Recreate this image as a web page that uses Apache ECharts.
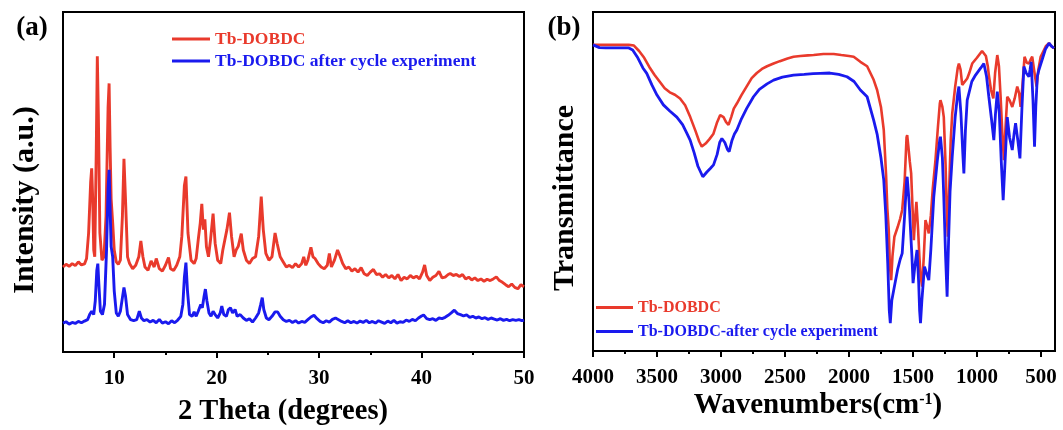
<!DOCTYPE html>
<html>
<head>
<meta charset="utf-8">
<title>Tb-DOBDC XRD and FTIR</title>
<script src="https://cdn.jsdelivr.net/npm/echarts@6/dist/echarts.min.js"></script>
<style>
  html, body { margin: 0; padding: 0; background: #fff; }
  #chart { width: 1063px; height: 430px; }
</style>
</head>
<body>
<div id="chart"></div>
<script>
// ---- (a) powder XRD patterns: [2θ (deg), intensity (a.u., offset)] ----
const xrdFresh = [
  [5.0,25.0],[5.3,25.8],[5.6,25.2],[5.9,26.0],[6.2,25.4],[6.5,26.5],[6.8,25.6],[7.1,25.9],[7.3,27.5],[7.5,35],
  [7.7,50],[7.8,54],[7.9,45],[8.0,30],[8.1,28],[8.25,60],[8.35,87],[8.45,70],[8.6,35],[8.8,27],
  [9.0,28],[9.2,40],[9.4,72],[9.5,79],[9.6,60],[9.7,45],[9.85,38],[10.0,30],[10.2,26.5],[10.4,25.8],
  [10.6,27],[10.8,40],[10.95,56.8],[11.1,45],[11.3,28],[11.5,26],[11.8,24.5],[12.1,25.5],[12.4,28],[12.6,32.7],
  [12.8,28],[13.0,25],[13.3,24],[13.6,26.8],[13.9,25],[14.1,27.5],[14.4,24.5],[14.7,23.8],[15.0,25.5],[15.3,27.8],
  [15.5,24.5],[15.8,24],[16.1,25.5],[16.4,28],[16.6,34],[16.85,49],[17.0,51.6],[17.2,35],[17.5,27],[17.8,26],
  [18.0,27.5],[18.2,33],[18.4,38],[18.55,43.6],[18.7,36],[18.85,39],[19.0,31],[19.2,28],[19.4,33],[19.65,40.7],
  [19.85,32],[20.1,27],[20.4,26],[20.6,30],[20.8,33],[21.0,36],[21.25,41],[21.45,34],[21.7,28],[21.9,30],
  [22.1,31],[22.4,34.8],[22.6,30],[22.9,27],[23.2,26],[23.5,27.5],[23.8,28],[24.1,34],[24.35,45.7],[24.55,36],
  [24.8,29],[25.1,27],[25.4,28],[25.7,35],[25.9,32],[26.2,28],[26.5,26.5],[26.8,25],[27.1,25.5],[27.4,24.8],
  [27.7,26],[28.0,25],[28.3,26],[28.5,28],[28.7,25.5],[28.9,27],[29.2,30.8],[29.4,28],[29.6,27.5],[29.9,26],
  [30.2,25],[30.5,24.5],[30.8,25.5],[31.0,29],[31.2,25],[31.5,27],[31.8,30],[32.0,28.5],[32.3,26],[32.6,24.5],
  [32.9,25],[33.2,23.8],[33.5,24.5],[33.8,23.5],[34.1,24.8],[34.4,23],[34.7,22.5],[35.0,23.5],[35.3,24.3],[35.6,22.8],
  [35.9,23],[36.2,22],[36.5,22.8],[36.8,21.8],[37.1,22.5],[37.4,21.5],[37.7,22.8],[38.0,21],[38.3,22],[38.6,21.5],
  [38.9,22.5],[39.2,21.8],[39.5,22.3],[39.8,21.5],[40.1,23.5],[40.3,25.6],[40.5,22.5],[40.8,21],[41.1,22],[41.4,22.5],
  [41.7,23.7],[42.0,21.8],[42.3,22],[42.6,22.8],[42.8,23.1],[43.1,22.5],[43.4,22.8],[43.7,22.2],[44.0,22.8],[44.3,21.5],
  [44.6,22],[44.9,21.2],[45.2,21.8],[45.5,21],[45.8,21.5],[46.1,20.8],[46.4,21.4],[46.7,21],[47.0,21.5],[47.3,22.1],
  [47.6,21],[47.9,20.5],[48.2,19.8],[48.5,19.2],[48.8,20],[49.1,19],[49.4,18.6],[49.7,19.8],[50.0,19.2]
];
const xrdCycled = [
  [5.0,8.5],[5.3,8.9],[5.6,8.2],[5.9,8.7],[6.2,8.4],[6.5,9.0],[6.8,8.6],[7.1,9.1],[7.4,9.5],[7.6,11],
  [7.8,12],[8.0,11],[8.15,15],[8.3,24],[8.4,26],[8.5,20],[8.65,12],[8.85,11],[9.05,14],[9.25,30],
  [9.4,48],[9.5,53.6],[9.6,42],[9.7,31],[9.85,28],[10.0,18],[10.2,11.5],[10.4,10.5],[10.6,12],[10.8,16],
  [10.95,19],[11.1,16.5],[11.3,11],[11.6,9.5],[11.9,9.2],[12.2,9.5],[12.45,12],[12.65,10],[12.9,9.2],[13.2,9.5],
  [13.5,8.8],[13.8,9.3],[14.1,8.6],[14.4,9.6],[14.7,8.5],[15.0,8.9],[15.3,8.3],[15.6,9.2],[15.9,8.6],[16.2,9.4],
  [16.5,10.5],[16.7,14],[16.85,22],[17.0,26.3],[17.15,18],[17.35,11],[17.6,10.5],[17.8,11.8],[18.0,10.5],[18.2,12],
  [18.45,14],[18.6,13],[18.75,16],[18.9,18.5],[19.05,15],[19.25,11.5],[19.45,10.5],[19.65,12],[19.85,11],[20.1,10],
  [20.35,11.5],[20.5,13.5],[20.7,11],[20.95,10.5],[21.15,12.5],[21.35,13],[21.55,11.5],[21.8,12.5],[22.0,10.5],[22.3,11],
  [22.6,10],[22.9,9.3],[23.2,9.8],[23.5,8.8],[23.8,10],[24.1,11.5],[24.3,14],[24.45,16],[24.6,12.5],[24.85,10],
  [25.1,9.5],[25.4,10.5],[25.7,11.8],[25.95,11.8],[26.2,10.5],[26.5,9.5],[26.8,9],[27.1,9.3],[27.4,8.7],[27.7,9.2],
  [28.0,8.5],[28.3,9],[28.6,8.7],[28.9,9.5],[29.2,10.3],[29.5,10.8],[29.8,9.8],[30.1,9],[30.4,8.6],[30.7,9.2],
  [31.0,8.8],[31.3,9.6],[31.6,10],[31.9,9.5],[32.2,9],[32.5,8.6],[32.8,9.2],[33.1,8.6],[33.4,9],[33.7,8.5],
  [34.0,9.1],[34.3,8.7],[34.6,9.3],[34.9,8.6],[35.2,9],[35.5,8.5],[35.8,9.2],[36.1,8.8],[36.4,8.4],[36.7,9.1],
  [37.0,8.6],[37.3,9.3],[37.6,8.5],[37.9,8.9],[38.2,8.7],[38.5,9.4],[38.8,9],[39.1,9.6],[39.4,9.2],[39.7,10],
  [40.0,10.6],[40.2,10.9],[40.5,9.8],[40.8,9.5],[41.1,9.8],[41.4,9.3],[41.7,10],[42.0,9.8],[42.3,10.2],[42.6,10.8],
  [42.9,11.5],[43.2,12.3],[43.5,11.3],[43.8,11],[44.1,10.6],[44.4,10.9],[44.7,10.2],[45.0,10.5],[45.3,10],[45.6,10.3],
  [45.9,9.8],[46.2,10.1],[46.5,9.6],[46.8,10],[47.1,9.7],[47.4,9.4],[47.7,9.8],[48.0,9.3],[48.3,9.6],[48.6,9.2],
  [48.9,9.5],[49.2,9.3],[49.5,9.5],[49.8,9.2],[50.0,9.4]
];

// ---- (b) FTIR spectra: [wavenumber (cm^-1), transmittance (a.u.)] ----
const irFresh = [
  [4000,90.3],[3900,90.3],[3800,90.3],[3720,90.3],[3680,90.1],[3640,88.5],[3600,86.5],[3560,83.8],[3520,81.5],[3480,79.5],
  [3440,77.5],[3400,76.3],[3360,75.6],[3320,74.5],[3280,72.5],[3240,69],[3200,65],[3170,61.8],[3150,60.3],[3120,61.2],
  [3090,62.5],[3060,64],[3030,67.5],[3006,69.6],[2980,69],[2960,67.5],[2941,66.7],[2920,69],[2900,71.5],[2876,73],
  [2840,75.5],[2800,78],[2760,80.5],[2720,82],[2680,83.2],[2640,84],[2589,84.8],[2540,85.5],[2480,86.3],[2433,86.8],
  [2380,87],[2320,87.2],[2276,87.3],[2200,87.6],[2119,87.6],[2060,87.3],[2000,87],[1963,86.8],[1911,85.3],[1858,84],
  [1807,80],[1780,77],[1750,72],[1728,65.2],[1710,52],[1700,42],[1689,35.7],[1680,25],[1670,20.9],[1660,28],
  [1645,33.7],[1620,36.5],[1600,39],[1584,41.6],[1565,50],[1550,63],[1545,63.7],[1535,60],[1525,56],[1514,52.4],
  [1503,42],[1493,32.7],[1485,38],[1473,44],[1460,36],[1450,28],[1440,22],[1428,19],[1415,28],[1402,38.6],
  [1390,37],[1376,34.7],[1360,40],[1345,48],[1324,56.3],[1305,66],[1290,73],[1285,74],[1270,72],[1259,69],
  [1245,55],[1235,40],[1227,33.7],[1215,50],[1205,62],[1193,70.1],[1170,78],[1150,83.5],[1141,84.8],[1128,83],
  [1115,78.5],[1100,79],[1076,80.4],[1060,82],[1037,84.8],[1000,86.5],[960,88.5],[946,88.8],[930,87],[915,84],
  [907,81.4],[890,77],[872,74.5],[858,82],[841,87.3],[828,84],[815,75],[800,63],[789,56.3],[778,65],
  [763,75],[745,74],[724,72],[705,74.5],[685,78],[670,76],[659,72],[645,78],[628,86.8],[610,85],
  [594,84.8],[580,86],[568,86.8],[550,82],[534,78],[520,83],[502,86.8],[480,88.5],[460,90],[437,90.8],
  [420,90],[398,89.3]
];
const irCycled = [
  [4000,90.3],[3950,89.5],[3900,89.4],[3800,89.4],[3720,89.4],[3690,88.8],[3650,86.5],[3610,83.5],[3580,81.9],[3540,78.5],
  [3500,75.5],[3450,72.6],[3400,70.8],[3345,69],[3300,66.8],[3270,64.5],[3241,62.2],[3210,58.5],[3180,54.5],[3142,51.4],
  [3110,52.8],[3080,54],[3058,54.9],[3030,58],[3010,61.5],[2993,62.7],[2970,61.5],[2950,59.5],[2936,58.8],[2915,62],
  [2895,64],[2876,65.2],[2840,68.5],[2800,71.5],[2746,75],[2700,77.2],[2640,78.8],[2589,79.9],[2520,80.8],[2433,81.4],
  [2350,81.6],[2280,81.8],[2224,81.9],[2150,82],[2080,81.6],[2015,80.9],[1960,79.5],[1911,77],[1858,75],[1807,68.1],
  [1780,64],[1750,57],[1728,50.4],[1712,40],[1697,25.9],[1685,12],[1677,8.2],[1665,15],[1645,19],[1620,24],
  [1600,27],[1584,28.8],[1565,40],[1550,50],[1545,51.4],[1530,44],[1519,35.7],[1508,28],[1499,20],[1485,25],
  [1468,29.8],[1455,20],[1448,12],[1441,8.2],[1430,15],[1410,24.9],[1390,22.5],[1376,20.9],[1360,30],[1337,45.5],
  [1310,56],[1290,62.5],[1285,63.2],[1270,57],[1259,45.5],[1245,28],[1233,16],[1222,32],[1210,47],[1193,57.3],
  [1170,69],[1150,76],[1141,78],[1125,70],[1110,58],[1102,52.4],[1090,65],[1076,74],[1040,79.5],[1011,81.4],
  [970,83.5],[946,84.8],[925,81],[907,75],[885,68],[868,62.2],[855,70],[841,76.5],[825,70],[810,56],
  [795,44.5],[780,56],[763,69],[745,63],[724,59.3],[710,64],[698,67.2],[680,62],[664,56.8],[648,72],
  [633,83.9],[615,82],[594,80.9],[585,83],[576,85.3],[562,74],[550,60.3],[540,72],[528,81],[516,82.9],
  [490,86],[465,89],[437,90.8],[420,90],[398,89.3]
];

// ---- tick positions ----
const xrdMajorTicks = [10, 20, 30, 40, 50];
const xrdMinorTicks = [15, 25, 35, 45];
const irMajorTicks = [500, 1000, 1500, 2000, 2500, 3000, 3500, 4000];
const irMinorTicks = [750, 1250, 1750, 2250, 2750, 3250, 3750];

const RED = '#e93a2c';
const BLUE = '#1a1aee';
const SERIF = '"Liberation Serif", "Times New Roman", serif';
const boldFont = (size) => 'bold ' + size + 'px ' + SERIF;

const chart = echarts.init(document.getElementById('chart'), null, { renderer: 'canvas' });

function bottomAxis(grid, min, max, inverse, ticks, labelSize) {
  return {
    type: 'value', gridIndex: grid, min: min, max: max, inverse: inverse,
    position: 'bottom',
    axisLine: { show: true, lineStyle: { color: '#000', width: 2 } },
    axisTick: { show: true, customValues: ticks, length: 6, inside: false, lineStyle: { color: '#000', width: 2 } },
    axisLabel: { show: true, customValues: ticks, margin: 16, fontFamily: SERIF, fontWeight: 'bold',
      fontSize: labelSize, color: '#000', formatter: (v) => String(v) },
    splitLine: { show: false }
  };
}
function minorAxis(grid, min, max, inverse, ticks) {
  return {
    type: 'value', gridIndex: grid, min: min, max: max, inverse: inverse,
    position: 'bottom',
    axisLine: { show: false },
    axisTick: { show: true, customValues: ticks, length: 3, lineStyle: { color: '#000', width: 2 } },
    axisLabel: { show: false },
    splitLine: { show: false }
  };
}
function sideAxis(grid) {
  return {
    type: 'value', gridIndex: grid, min: 0, max: 100,
    axisLine: { show: true, lineStyle: { color: '#000', width: 2 } },
    axisTick: { show: false },
    axisLabel: { show: false },
    splitLine: { show: false }
  };
}
function trace(name, data, color, xi, yi, width) {
  return {
    type: 'line', name: name, data: data, xAxisIndex: xi, yAxisIndex: yi,
    symbol: 'none', showSymbol: false, smooth: false,
    lineStyle: { color: color, width: width }, itemStyle: { color: color },
    emphasis: { disabled: true }, z: color === BLUE ? 3 : 2
  };
}
function label(text, x, y, size, rotate) {
  return {
    type: 'text', x: x, y: y, rotation: rotate ? Math.PI / 2 : 0, silent: true,
    style: { text: text, font: boldFont(size), fill: '#000', align: 'center', verticalAlign: 'middle' }
  };
}

chart.setOption({
  animation: false,
  backgroundColor: '#fff',
  legend: [
    { orient: 'vertical', left: 172, top: 30, padding: 0, itemGap: 4,
      itemWidth: 38, itemHeight: 3, icon: 'rect',
      textStyle: { fontFamily: SERIF, fontWeight: 'bold', fontSize: 17.5, lineHeight: 18 },
      data: [
        { name: 'Tb-DOBDC', textStyle: { color: RED } },
        { name: 'Tb-DOBDC after cycle experiment', textStyle: { color: BLUE } }
      ] },
    { orient: 'vertical', left: 596, top: 299, padding: 0, itemGap: 7,
      itemWidth: 37, itemHeight: 3, icon: 'rect',
      textStyle: { fontFamily: SERIF, fontWeight: 'bold', fontSize: 16, lineHeight: 17 },
      data: [
        { name: 'Tb-DOBDC', textStyle: { color: RED } },
        { name: 'Tb-DOBDC-after cycle experiment', textStyle: { color: BLUE } }
      ] }
  ],
  grid: [
    { left: 63, right: 539, top: 12, bottom: 78, show: true, borderColor: '#000', borderWidth: 2 },
    { left: 593, right: 8, top: 12, bottom: 79, show: true, borderColor: '#000', borderWidth: 2 }
  ],
  xAxis: [
    bottomAxis(0, 5, 50, false, xrdMajorTicks, 21),
    minorAxis(0, 5, 50, false, xrdMinorTicks),
    bottomAxis(1, 390, 4000, true, irMajorTicks, 21),
    minorAxis(1, 390, 4000, true, irMinorTicks)
  ],
  yAxis: [sideAxis(0), sideAxis(1)],
  graphic: [
    label('(a)', 32, 28, 27, false),
    label('(b)', 564, 28, 27, false),
    label('Intensity (a.u.)', 25, 200, 30, true),
    label('Transmittance', 565, 198, 30, true),
    label('2 Theta (degrees)', 283, 412, 28.5, false),
    {
      type: 'text', x: 818, y: 406, silent: true,
      style: {
        text: '{m|Wavenumbers(cm}{s|-1}{m|)}', align: 'center', verticalAlign: 'middle',
        rich: {
          m: { font: boldFont(29), fill: '#000' },
          s: { font: boldFont(16), fill: '#000', verticalAlign: 'top', padding: [0, 0, 12, 0] }
        }
      }
    }
  ],
  series: [
    trace('Tb-DOBDC', xrdFresh, RED, 0, 0, 2.9),
    trace('Tb-DOBDC after cycle experiment', xrdCycled, BLUE, 0, 0, 2.9),
    trace('Tb-DOBDC', irFresh, RED, 2, 1, 2.6),
    trace('Tb-DOBDC-after cycle experiment', irCycled, BLUE, 2, 1, 2.8)
  ]
});
</script>
</body>
</html>
